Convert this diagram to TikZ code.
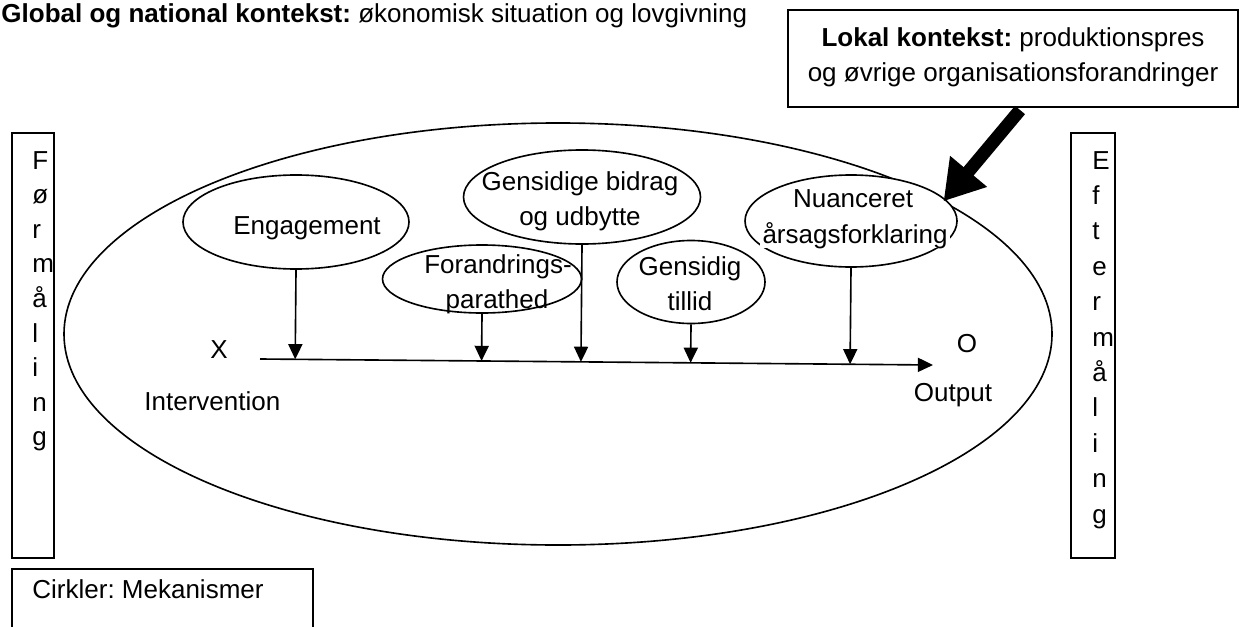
\documentclass[tikz,border=0pt]{standalone}
\usepackage{fontspec}
\setmainfont{Liberation Sans}
\usetikzlibrary{arrows.meta,shapes.geometric,calc}
\def\u{0.4615pt}
\begin{document}
\frenchspacing
\begin{tikzpicture}[x=0.4615pt,y=-0.4615pt,
  font=\fontsize{12}{16.15}\selectfont,
  frame/.style={draw, line width=0.7pt},
  mech/.style={ellipse, draw, line width=0.75pt, fill=white, inner sep=0pt},
  lbl/.style={inner sep=0pt, anchor=base},
  arr/.style={line width=0.75pt, -{Triangle[length=7pt,width=6.5pt]}},
  bigarr/.style={line width=6pt, -{Triangle[length=18pt,width=21pt]}},
]
\useasboundingbox (0,0) rectangle (1239,626);

% top context text
\node[inner sep=0pt, anchor=base west] (glob) at (1,23)
  {\textbf{Global og national kontekst:} økonomisk situation og lovgivning};

% local context box
\draw[frame] (788,10) rectangle (1238,107);
\coordinate (lok) at (1013,107);
\node[lbl] (lok1) at (1013,47) {\textbf{Lokal kontekst:} produktionspres};
\node[lbl] (lok2) at (1013,82) {og øvrige organisationsforandringer};

% pre / post measurement boxes
\node[frame, minimum width=42*\u, minimum height=425*\u, inner sep=0pt] (pre) at (33,345.5) {};
\node[frame, minimum width=44*\u, minimum height=425*\u, inner sep=0pt] (post) at (1093,345.5) {};
\foreach \c [count=\i from 0] in {F,ø,r,m,å,l,i,n,g}
  \node[inner sep=0pt, anchor=base west] (pl\i) at (32,169+34.6*\i) {\c};
\foreach \c [count=\i from 0] in {E,f,t,e,r,m,å,l,i,n,g}
  \node[inner sep=0pt, anchor=base west] (el\i) at (1092,169+35.4*\i) {\c};

% legend box
\draw[frame] (12,650) -- (12,569) -- (313,569) -- (313,650);
\node[inner sep=0pt, anchor=base west] (leg) at (32,598) {Cirkler: Mekanismer};

% big context ellipse
\node[ellipse, draw, line width=0.75pt, inner sep=0pt,
  minimum width=988*\u, minimum height=422*\u] (ctx) at (558,334) {};

% mechanisms
\node[mech, minimum width=226*\u, minimum height=94*\u] (eng) at (296,222) {};
\node[mech, minimum width=237*\u, minimum height=94*\u] (gen) at (582,197) {};
\node[mech, minimum width=199*\u, minimum height=68*\u] (for) at (482,279) {};
\node[mech, minimum width=148*\u, minimum height=83*\u] (til) at (691,282) {};
\node[mech, minimum width=212*\u, minimum height=92*\u] (nua) at (851,221) {};

\node[lbl] (engt) at (307,234) {Engagement};
\node[lbl] (gen1) at (580,190) {Gensidige bidrag};
\node[lbl] (gen2) at (580,225) {og udbytte};
\node[lbl] (for1) at (498,273) {Forandrings-};
\node[lbl] (for2) at (497,308) {parathed};
\node[lbl] (til1) at (690,275) {Gensidig};
\node[lbl] (til2) at (690,310) {tillid};
\node[lbl] (nua1) at (853,207) {Nuanceret};
\node[lbl, fill=white, inner xsep=1pt] (nua2) at (855,243) {årsagsforklaring};

% intervention axis
\coordinate (xs) at (260,359);
\coordinate (xe) at (933,365);
\draw[arr] (xs) -- (xe);
\node[lbl] (xl) at (219,358) {X};
\node[inner sep=0pt, anchor=base west] (int) at (144,410) {Intervention};
\node[lbl] (ol) at (967,352) {O};
\node[lbl] (out) at (953,401) {Output};

% mechanism arrows onto axis
\foreach \m in {eng,for,gen,til,nua}
  \draw[arr] (\m.south) -- ($(xs)!(\m.south)!(xe)$);

% local context arrow
\draw[bigarr] ($(lok)+(7,3)$) -- (ctx.19);
\end{tikzpicture}
\end{document}
